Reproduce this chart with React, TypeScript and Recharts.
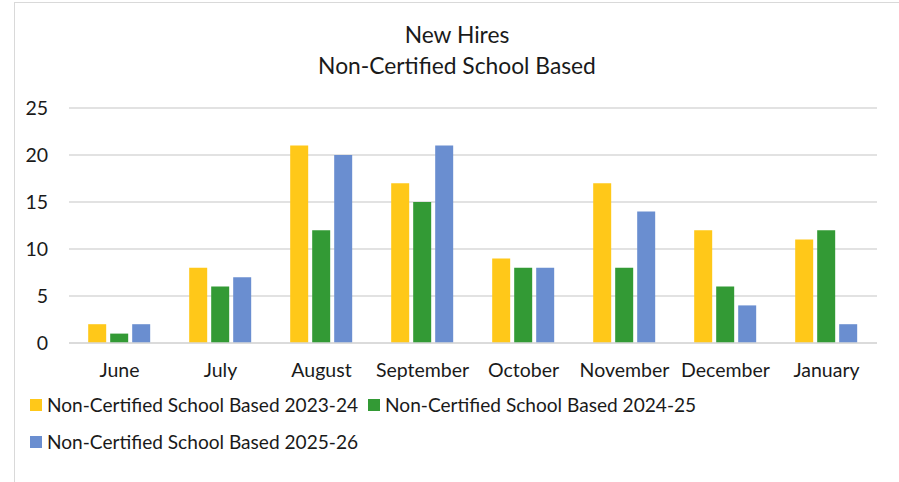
import { BarChart, Bar, XAxis, YAxis, CartesianGrid } from 'recharts'

const months = ['June', 'July', 'August', 'September', 'October', 'November', 'December', 'January']
const hires2324 = [2, 8, 21, 17, 9, 17, 12, 11]
const hires2425 = [1, 6, 12, 15, 8, 8, 6, 12]
const hires2526 = [2, 7, 20, 21, 8, 14, 4, 2]
const yTicks = [0, 5, 10, 15, 20, 25]

const series = [
    { key: 's2324', name: 'Non-Certified School Based 2023-24', color: '#FFC819' },
    { key: 's2425', name: 'Non-Certified School Based 2024-25', color: '#339A35' },
    { key: 's2526', name: 'Non-Certified School Based 2025-26', color: '#6A8ED0' },
]

const data = months.map((m, i) => ({
    month: m,
    s2324: hires2324[i],
    s2425: hires2425[i],
    s2526: hires2526[i],
}))

const font = 'Lato, "Open Sans", sans-serif'

function LegendBox() {
    const item = (s: typeof series[0]) => (
        <span key={s.key} style={{ display: 'inline-flex', alignItems: 'center', marginRight: 10 }}>
            <span style={{ width: 12, height: 12, background: s.color, display: 'inline-block', marginRight: 5 }} />
            <span>{s.name}</span>
        </span>
    )
    return (
        <div style={{ position: 'absolute', left: 30, top: 386, fontFamily: font, fontSize: 19.1, color: '#1a1a1a', lineHeight: '36px', whiteSpace: 'nowrap' }}>
            <div>{item(series[0])}{item(series[1])}</div>
            <div>{item(series[2])}</div>
        </div>
    )
}

export default function App() {
    return (
        <div style={{ position: 'absolute', left: 0, top: 0, width: 899, height: 482, background: '#fff', overflow: 'hidden' }}>
            <div style={{ position: 'absolute', left: 14, top: 2, width: 900, height: 500, border: '1.5px solid #d9d9d9' }} />
            <div style={{ position: 'absolute', left: 0, top: 19, width: 914, textAlign: 'center', fontFamily: font, fontSize: 22.8, color: '#1a1a1a', lineHeight: '31px' }}>
                <div>New Hires</div>
                <div>Non-Certified School Based</div>
            </div>
            <div style={{ position: 'absolute', left: 0, top: 0 }}>
                <BarChart
                    width={899}
                    height={482}
                    data={data}
                    margin={{ top: 108, right: 22, bottom: 0, left: 0 }}
                    barCategoryGap="19%"
                    barGap={4}
                >
                    <CartesianGrid stroke="#d9d9d9" strokeWidth={1.5} vertical={false} />
                    <XAxis
                        dataKey="month"
                        axisLine={{ stroke: '#d9d9d9', strokeWidth: 1.5 }}
                        tickLine={false}
                        tickSize={0}
                        tickMargin={20}
                        height={139}
                        tick={{ fill: '#1a1a1a', fontSize: 19.5, fontFamily: font }}
                    />
                    <YAxis
                        domain={[0, 25]}
                        ticks={yTicks}
                        axisLine={false}
                        tickLine={false}
                        tickSize={0}
                        tickMargin={21}
                        width={69}
                        tick={{ fill: '#1a1a1a', fontSize: 19.5, fontFamily: font }}
                    />
                    {series.map((s) => (
                        <Bar key={s.key} dataKey={s.key} name={s.name} fill={s.color} isAnimationActive={false} />
                    ))}
                </BarChart>
            </div>
            <LegendBox />
        </div>
    )
}
